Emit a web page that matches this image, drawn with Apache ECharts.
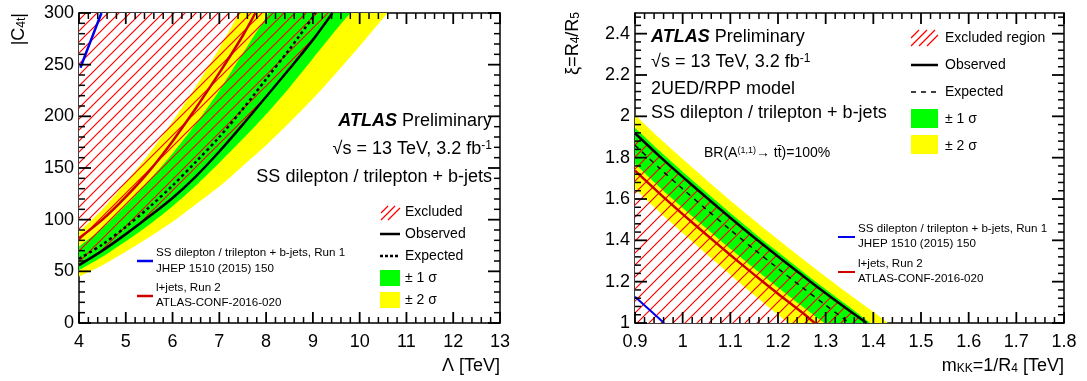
<!DOCTYPE html>
<html>
<head>
<meta charset="utf-8">
<script src="https://cdn.jsdelivr.net/npm/echarts@6/dist/echarts.min.js"></script>
<style>
  html, body { margin: 0; padding: 0; background: #fff; }
  #main { width: 1087px; height: 381px; }
</style>
</head>
<body>
<div id="main"></div>
<script>
// left panel: |C4t| limit vs Lambda (curves end where they leave the frame at 300)
var lamY2lo = [4, 4.5, 5, 5.5, 6, 6.5, 7, 7.5, 8, 8.5, 9, 9.5, 10, 10.5, 10.6]
var c4tY2lo = [45, 56, 69, 83, 98, 115, 132, 152, 172, 194, 217, 242, 268, 295, 300]
var lamY1lo = [4, 4.5, 5, 5.5, 6, 6.5, 7, 7.5, 8, 8.5, 9, 9.5, 9.8]
var c4tY1lo = [51, 64, 79, 95, 113, 133, 155, 178, 202, 228, 256, 284, 300]
var lamObs = [4, 4.5, 5, 5.5, 6, 6.5, 7, 7.5, 8, 8.5, 9, 9.42]
var c4tObs = [56, 70, 86, 103, 121, 142, 166, 192, 219, 246, 274, 300]
var lamExp = [4, 4.5, 5, 5.5, 6, 6.5, 7, 7.5, 8, 8.5, 9, 9.05]
var c4tExp = [62, 76, 93, 112, 133, 156, 180, 207, 236, 265, 296, 300]
var lamY1hi = [4, 4.5, 5, 5.5, 6, 6.5, 7, 7.5, 8, 8.05]
var c4tY1hi = [74, 92, 114, 138, 164, 193, 225, 261, 296, 300]
var lamY2hi = [4, 4.5, 5, 5.5, 6, 6.5, 7, 7.42]
var c4tY2hi = [88, 110, 136, 164, 195, 229, 266, 300]
var lamLjets = [4, 4.5, 5, 5.5, 6, 6.5, 7, 7.5, 7.77]
var c4tLjets = [82, 100, 122, 147, 176, 208, 242, 278, 300]
var lamRun1 = [4.03, 4.25, 4.48]
var c4tRun1 = [247, 273, 300]

// right panel: xi = R4/R5 limit vs mKK (curves end on the xi = 1 floor)
var mkkY2hi = [0.9, 0.95, 1.0, 1.05, 1.1, 1.15, 1.2, 1.25, 1.3, 1.35, 1.4, 1.43]
var xiY2hi = [2.006, 1.897, 1.793, 1.692, 1.593, 1.497, 1.404, 1.313, 1.224, 1.138, 1.054, 1.0]
var mkkY1hi = [0.9, 0.95, 1.0, 1.05, 1.1, 1.15, 1.2, 1.25, 1.3, 1.35, 1.393]
var xiY1hi = [1.945, 1.836, 1.732, 1.631, 1.532, 1.436, 1.343, 1.252, 1.163, 1.077, 1.0]
var mkkObs = [0.9, 0.95, 1.0, 1.05, 1.1, 1.15, 1.2, 1.25, 1.3, 1.35, 1.386]
var xiObs = [1.918, 1.81, 1.707, 1.607, 1.509, 1.414, 1.322, 1.232, 1.144, 1.059, 1.0]
var mkkExp = [0.9, 0.95, 1.0, 1.05, 1.1, 1.15, 1.2, 1.25, 1.3, 1.35]
var xiExp = [1.86, 1.752, 1.649, 1.549, 1.451, 1.356, 1.264, 1.174, 1.086, 1.0]
var mkkY1lo = [0.9, 0.95, 1.0, 1.05, 1.1, 1.15, 1.2, 1.25, 1.297]
var xiY1lo = [1.77, 1.66, 1.557, 1.457, 1.359, 1.264, 1.172, 1.082, 1.0]
var mkkLjets = [0.9, 0.95, 1.0, 1.05, 1.1, 1.15, 1.2, 1.25, 1.277]
var xiLjets = [1.737, 1.63, 1.527, 1.427, 1.329, 1.234, 1.142, 1.052, 1.0]
var mkkY2lo = [0.9, 0.95, 1.0, 1.05, 1.1, 1.15, 1.2, 1.222]
var xiY2lo = [1.65, 1.54, 1.436, 1.334, 1.234, 1.136, 1.04, 1.0]
var mkkRun1 = [0.9, 0.961]
var xiRun1 = [1.127, 1.0]

// tick marks (major values, minor subdivisions drawn between them)
var lamTicks = [4, 5, 6, 7, 8, 9, 10, 11, 12, 13]
var c4tTicks = [0, 50, 100, 150, 200, 250, 300]
var mkkTicks = [0.9, 1.0, 1.1, 1.2, 1.3, 1.4, 1.5, 1.6, 1.7, 1.8]
var xiTicks = [1.0, 1.2, 1.4, 1.6, 1.8, 2.0, 2.2, 2.4, 2.6]

var FONT = "'Liberation Sans', Arial, Helvetica, sans-serif"
var YELLOW = '#ffff00'
var GREEN = '#00ff00'
var HATCH = '#ff0000'

function zip(xs, ys) {
  return xs.map(function (x, i) { return [x, ys[i]] })
}

//斜线填充
function hatch(step, color) {
  var c = document.createElement('canvas')
  c.width = step
  c.height = step
  var ctx = c.getContext('2d')
  ctx.strokeStyle = color
  ctx.lineWidth = 1.2
  ctx.beginPath()
  ctx.moveTo(-1, step + 1); ctx.lineTo(step + 1, -1)
  ctx.moveTo(-1, 1); ctx.lineTo(1, -1)
  ctx.moveTo(step - 1, step + 1); ctx.lineTo(step + 1, step - 1)
  ctx.stroke()
  return c
}

function area(xs, ys, fill, origin, ax, z) {
  return {
    type: 'line', xAxisIndex: ax, yAxisIndex: ax, data: zip(xs, ys),
    symbol: 'none', smooth: 0.3, silent: true, z: z,
    lineStyle: { width: 0 },
    areaStyle: { color: fill, opacity: 1, origin: origin }
  }
}

function curve(xs, ys, color, width, dash, ax, z) {
  return {
    type: 'line', xAxisIndex: ax, yAxisIndex: ax, data: zip(xs, ys),
    symbol: 'none', smooth: 0.3, silent: true, z: z,
    lineStyle: { color: color, width: width, type: dash || 'solid', cap: 'butt' }
  }
}

function minors(majors, sub, max) {
  var out = []
  for (var i = 0; i < majors.length - 1; i++) {
    var step = (majors[i + 1] - majors[i]) / sub
    for (var j = 1; j < sub; j++) {
      var v = majors[i] + j * step
      if (v < max - 1e-9) out.push(v)
    }
  }
  return out
}

function axis(extra) {
  var base = {
    type: 'value',
    axisLine: { show: true, onZero: false, lineStyle: { color: '#000', width: 1.5 } },
    axisTick: { show: false },
    minorTick: { show: false },
    axisLabel: { show: true, color: '#000', fontFamily: FONT, fontSize: 18 },
    splitLine: { show: false }
  }
  for (var k in extra) {
    if (typeof extra[k] === 'object' && base[k]) {
      for (var j in extra[k]) base[k][j] = extra[k][j]
    } else {
      base[k] = extra[k]
    }
  }
  return base
}

function txt(x, y, text, size, align, extra) {
  var sm = Math.round(size * 0.65)
  var el = {
    type: 'text', x: x, y: y, z: 100, silent: true,
    style: {
      text: text, fill: '#000', fontSize: size, fontFamily: FONT,
      textAlign: align || 'left', textVerticalAlign: 'middle',
      rich: {
        sub: { fontSize: sm, fontFamily: FONT, fill: '#000', verticalAlign: 'bottom' },
        sup: { fontSize: sm, fontFamily: FONT, fill: '#000', verticalAlign: 'top' },
        n: { fontSize: size, fontFamily: FONT, fill: '#000' },
        b: { fontSize: size, fontFamily: FONT, fill: '#000', fontWeight: 'bold', fontStyle: 'italic' }
      }
    }
  }
  if (extra) for (var k in extra) el[k] = extra[k]
  return el
}

function seg(x1, y1, x2, y2, color, width, dash) {
  return {
    type: 'line', z: 100, silent: true,
    shape: { x1: x1, y1: y1, x2: x2, y2: y2 },
    style: { stroke: color, lineWidth: width, lineDash: dash || null }
  }
}

function box(x, y, w, h, color) {
  return { type: 'rect', z: 100, silent: true, shape: { x: x, y: y, width: w, height: h }, style: { fill: color } }
}

var hatchL = hatch(11, HATCH)
var hatchR = hatch(12, HATCH)

var myChart = echarts.init(document.getElementById('main'), null, { renderer: 'canvas' })

var option = {
  backgroundColor: '#fff',
  animation: false,
  grid: [
    { left: 79, top: 13, width: 421, height: 310 },
    { left: 635, top: 13, width: 429, height: 310 }
  ],
  xAxis: [
    axis({ gridIndex: 0, min: 4, max: 13, interval: 1, position: 'bottom', axisLabel: { margin: 10 } }),
    axis({ gridIndex: 0, min: 4, max: 13, interval: 1, position: 'top', axisLabel: { show: false } }),
    axis({ gridIndex: 1, min: 0.9, max: 1.8, interval: 0.1, position: 'bottom', axisLabel: { margin: 10 } }),
    axis({ gridIndex: 1, min: 0.9, max: 1.8, interval: 0.1, position: 'top', axisLabel: { show: false } })
  ],
  yAxis: [
    axis({ gridIndex: 0, min: 0, max: 300, interval: 50, position: 'left', axisLabel: { margin: 5 } }),
    axis({ gridIndex: 0, min: 0, max: 300, interval: 50, position: 'right', axisLabel: { show: false } }),
    axis({ gridIndex: 1, min: 1, max: 2.5, interval: 0.2, position: 'left', axisLabel: { margin: 5, showMaxLabel: false } }),
    axis({ gridIndex: 1, min: 1, max: 2.5, interval: 0.2, position: 'right', axisLabel: { show: false } })
  ],
  series: [
    // left: bands fill up to the top of the frame
    area(lamY2lo, c4tY2lo, YELLOW, 'end', 0, 2),
    area(lamY1lo, c4tY1lo, GREEN, 'end', 0, 3),
    area(lamY1hi, c4tY1hi, YELLOW, 'end', 0, 4),
    area(lamY2hi, c4tY2hi, '#ffffff', 'end', 0, 5),
    area(lamObs, c4tObs, { image: hatchL, repeat: 'repeat' }, 'end', 0, 6),
    curve(lamLjets, c4tLjets, '#cc0000', 2.5, null, 0, 7),
    curve(lamRun1, c4tRun1, '#0000ee', 2.5, null, 0, 7),
    curve(lamExp, c4tExp, '#000', 2.5, [3, 3], 0, 8),
    curve(lamObs, c4tObs, '#000', 2.5, null, 0, 8),

    // right: bands fill down to xi = 1
    area(mkkY2hi, xiY2hi, YELLOW, 'start', 2, 2),
    area(mkkY1hi, xiY1hi, GREEN, 'start', 2, 3),
    area(mkkY1lo, xiY1lo, YELLOW, 'start', 2, 4),
    area(mkkY2lo, xiY2lo, '#ffffff', 'start', 2, 5),
    area(mkkObs, xiObs, { image: hatchR, repeat: 'repeat' }, 'start', 2, 6),
    curve(mkkLjets, xiLjets, '#cc0000', 2.5, null, 2, 7),
    curve(mkkRun1, xiRun1, '#0000ee', 2, null, 2, 7),
    curve(mkkExp, xiExp, '#000', 1.5, [5, 5], 2, 8),
    curve(mkkObs, xiObs, '#000', 2.5, null, 2, 8)
  ]
}

myChart.setOption(option, true)

var labels = [
  // axis titles
  txt(19, 13, '|C{sub|4t}|', 18, 'right', { rotation: Math.PI / 2 }),
  txt(500, 366, 'Λ [TeV]', 18, 'right'),
  txt(573, 12, 'ξ=R{sub|4}/R{sub|5}', 18, 'right', { rotation: Math.PI / 2 }),
  txt(1064, 366, 'm{sub|KK}=1/R{sub|4} [TeV]', 18, 'right'),

  // left labels
  txt(492, 121, '{b|ATLAS} {n|Preliminary}', 18, 'right'),
  txt(492, 149, '√s = 13 TeV, 3.2 fb{sup|-1}', 18, 'right'),
  txt(492, 177, 'SS dilepton / trilepton + b-jets', 18, 'right'),

  seg(381, 213, 388, 206, HATCH, 1.2),
  seg(381, 220, 395, 206, HATCH, 1.2),
  seg(388, 220, 400, 208, HATCH, 1.2),
  txt(405, 212, 'Excluded', 14),
  seg(380, 234, 400, 234, '#000', 2.5),
  txt(405, 234, 'Observed', 14),
  seg(380, 256, 400, 256, '#000', 2.5, [3, 2]),
  txt(405, 256, 'Expected', 14),
  box(380, 270, 20, 16, GREEN),
  txt(405, 278, '± 1 σ', 14),
  box(380, 292, 20, 16, YELLOW),
  txt(405, 300, '± 2 σ', 14),

  seg(137, 261, 153, 261, '#0000ee', 2.5),
  txt(156, 253, 'SS dilepton / trilepton + b-jets, Run 1', 11.6),
  txt(156, 269, 'JHEP 1510 (2015) 150', 11.6),
  seg(137, 296, 153, 296, '#cc0000', 2.5),
  txt(156, 288, 'l+jets, Run 2', 11.6),
  txt(156, 303, 'ATLAS-CONF-2016-020', 11.6),

  // right labels
  txt(651, 37, '{b|ATLAS} {n|Preliminary}', 18),
  txt(651, 62, '√s = 13 TeV, 3.2 fb{sup|-1}', 18),
  txt(651, 89, '2UED/RPP model', 18),
  txt(651, 113, 'SS dilepton / trilepton + b-jets', 18),
  txt(704, 153, 'BR(A{sup|(1,1)}→ tt̄)=100%', 14),

  seg(911, 38, 919, 30, HATCH, 1.2),
  seg(911, 46, 927, 30, HATCH, 1.2),
  seg(919, 46, 935, 30, HATCH, 1.2),
  seg(927, 46, 938, 35, HATCH, 1.2),
  txt(945, 38, 'Excluded region', 14),
  seg(911, 65, 938, 65, '#000', 2.5),
  txt(945, 65, 'Observed', 14),
  seg(911, 92, 938, 92, '#000', 1.5, [5, 5]),
  txt(945, 92, 'Expected', 14),
  box(911, 109, 27, 19, GREEN),
  txt(945, 119, '± 1 σ', 14),
  box(911, 135, 27, 19, YELLOW),
  txt(945, 146, '± 2 σ', 14),

  seg(838, 237, 855, 237, '#0000ee', 2),
  txt(858, 229, 'SS dilepton / trilepton + b-jets, Run 1', 11.6),
  txt(858, 244, 'JHEP 1510 (2015) 150', 11.6),
  seg(838, 272, 855, 272, '#cc0000', 2),
  txt(858, 264, 'l+jets, Run 2', 11.6),
  txt(858, 279, 'ATLAS-CONF-2016-020', 11.6)
]

/* ROOT 风格刻度: 四边朝内, 位置由坐标轴换算 */
function frameTicks(gi, xt, xMin, xMax, yt, yMin, yMax) {
  var out = []
  function tick(v, dir, len, w) {
    var a, b
    if (dir === 'x') {
      a = myChart.convertToPixel({ gridIndex: gi }, [v, yMin])
      b = myChart.convertToPixel({ gridIndex: gi }, [v, yMax])
      out.push(seg(a[0], a[1], a[0], a[1] - len, '#000', w))
      out.push(seg(b[0], b[1], b[0], b[1] + len, '#000', w))
    } else {
      a = myChart.convertToPixel({ gridIndex: gi }, [xMin, v])
      b = myChart.convertToPixel({ gridIndex: gi }, [xMax, v])
      out.push(seg(a[0], a[1], a[0] + len, a[1], '#000', w))
      out.push(seg(b[0], b[1], b[0] - len, b[1], '#000', w))
    }
  }
  xt.forEach(function (v) { if (v <= xMax + 1e-9) tick(v, 'x', 11, 1.8) })
  minors(xt, 5, xMax).forEach(function (v) { tick(v, 'x', 6, 1.5) })
  yt.forEach(function (v) { if (v <= yMax + 1e-9) tick(v, 'y', 12, 1.8) })
  minors(yt, 5, yMax).forEach(function (v) { tick(v, 'y', 6, 1.5) })
  return out
}

var ticks = frameTicks(0, lamTicks, 4, 13, c4tTicks, 0, 300)
  .concat(frameTicks(1, mkkTicks, 0.9, 1.8, xiTicks, 1, 2.5))

myChart.setOption({ graphic: labels.concat(ticks) })
</script>
</body>
</html>
